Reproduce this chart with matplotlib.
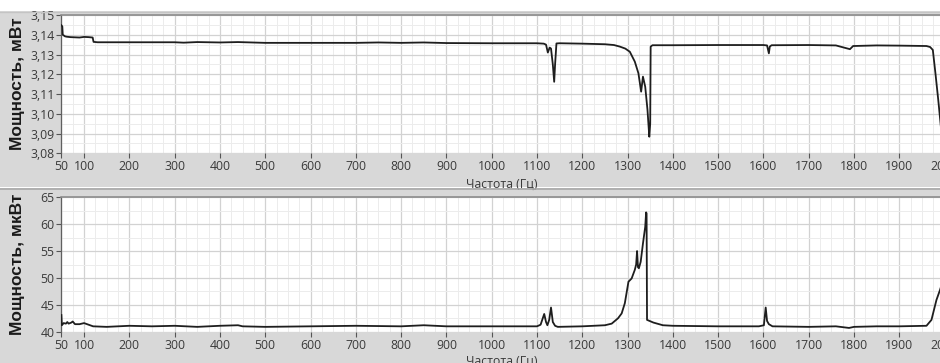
import matplotlib
matplotlib.use("Agg")
import matplotlib.pyplot as plt
from matplotlib.ticker import FixedLocator, MultipleLocator
from matplotlib.patches import Rectangle
from matplotlib.lines import Line2D

# ---------------- data ----------------
freq_top = [50, 52, 53, 58, 62, 70, 90, 100, 110, 119, 121, 130, 200, 300, 320, 350,
            400, 440, 500, 700, 750, 800, 850, 900, 1000, 1100, 1115, 1120, 1124,
            1128, 1131, 1135, 1138, 1140, 1143, 1150, 1200, 1250, 1270, 1283, 1295,
            1305, 1316, 1324, 1330, 1334, 1339, 1344, 1348, 1350, 1351, 1355, 1400,
            1500, 1600, 1608, 1612, 1614, 1618, 1700, 1760, 1791, 1798, 1850, 1900,
            1960, 1968, 1974, 1980, 1986, 1992, 2000]
power_top = [3.1448, 3.1442, 3.1400, 3.1392, 3.1390, 3.1388, 3.1386, 3.1389, 3.1388,
             3.1386, 3.1364, 3.1362, 3.1362, 3.1362, 3.1360, 3.1363, 3.1361, 3.1363,
             3.1359, 3.1359, 3.1361, 3.1359, 3.1361, 3.1358, 3.1357, 3.1357, 3.1355,
             3.1350, 3.1310, 3.1335, 3.1330, 3.1250, 3.1162, 3.1250, 3.1356, 3.1357,
             3.1355, 3.1352, 3.1348, 3.1340, 3.1330, 3.1314, 3.1264, 3.1205, 3.1112,
             3.1188, 3.1137, 3.1020, 3.0884, 3.0950, 3.1340, 3.1347, 3.1347, 3.1348,
             3.1348, 3.1346, 3.1306, 3.1340, 3.1347, 3.1348, 3.1346, 3.1327, 3.1343,
             3.1346, 3.1345, 3.1343, 3.1338, 3.1323, 3.1200, 3.1070, 3.0930, 3.0850]

freq_bot = [50, 51, 55, 60, 63, 66, 72, 75, 80, 90, 100, 110, 120, 150, 200, 250, 300,
            350, 400, 440, 450, 500, 600, 700, 800, 850, 900, 1000, 1100, 1108, 1116,
            1120, 1123, 1127, 1131, 1135, 1140, 1146, 1200, 1250, 1265, 1279, 1287,
            1294, 1302, 1309, 1316, 1319, 1321, 1323, 1325, 1329, 1334, 1339, 1341,
            1342, 1343, 1357, 1378, 1400, 1500, 1590, 1601, 1605, 1608, 1612, 1620,
            1700, 1760, 1789, 1800, 1850, 1900, 1960, 1971, 1982, 1990, 2000]
power_bot = [43.1, 41.2, 41.6, 41.5, 41.8, 41.5, 41.7, 41.9, 41.4, 41.4, 41.6, 41.3,
             41.0, 40.9, 41.1, 41.0, 41.1, 40.9, 41.1, 41.2, 41.0, 40.9, 41.0, 41.1,
             41.0, 41.2, 41.0, 41.0, 41.0, 41.3, 43.3, 41.8, 41.2, 42.2, 44.5, 41.8,
             41.1, 40.9, 41.0, 41.2, 41.5, 42.5, 43.4, 45.3, 49.3, 49.9, 51.5, 52.5,
             55.0, 52.0, 51.8, 53.0, 56.4, 59.5, 62.2, 62.0, 42.2, 41.7, 41.2, 41.1,
             41.0, 41.0, 41.2, 44.5, 42.0, 41.4, 41.0, 40.9, 41.0, 40.7, 40.9, 41.0,
             41.0, 41.1, 42.2, 45.9, 47.8, 50.5]

xticks = [50, 100, 200, 300, 400, 500, 600, 700, 800, 900, 1000, 1100, 1200, 1300,
          1400, 1500, 1600, 1700, 1800, 1900, 2000]
yticks_top = [3.08, 3.09, 3.10, 3.11, 3.12, 3.13, 3.14, 3.15]
ylabels_top = ["3,08", "3,09", "3,10", "3,11", "3,12", "3,13", "3,14", "3,15"]
yticks_bot = [40, 45, 50, 55, 60, 65]
ylabels_bot = ["40", "45", "50", "55", "60", "65"]

xlabel = "Частота (Гц)"
ylabel_top = "Мощность, мВт"
ylabel_bot = "Мощность, мкВт"

# ---------------- figure ----------------
W, H = 940, 363
fig = plt.figure(figsize=(W / 100, H / 100), dpi=100)
fig.patch.set_facecolor("white")

PANEL = "#d8d8d8"
TXT = "#3a3a3a"
LINE = "#1e1e1e"

def fy(py):  # pixel-from-top -> figure fraction
    return 1 - py / H

# background panels
fig.add_artist(Rectangle((0, fy(187)), 1, fy(11) - fy(187), transform=fig.transFigure,
                         facecolor=PANEL, edgecolor="none", zorder=0))
fig.add_artist(Rectangle((0, 0), 1, fy(188), transform=fig.transFigure,
                         facecolor=PANEL, edgecolor="none", zorder=0))
fig.add_artist(Line2D([0, 1], [fy(189), fy(189)], transform=fig.transFigure,
                      color="#a9a9a9", lw=1.2, zorder=5))
fig.add_artist(Line2D([0, 1], [fy(11.5), fy(11.5)], transform=fig.transFigure,
                      color="#c4c4c4", lw=1.0, zorder=1))

x0, x1 = 61.4, 944.6
left = x0 / W
width = (x1 - x0) / W

def make_ax(ptop, pbot):
    ax = fig.add_axes([left, fy(pbot), width, (pbot - ptop) / H])
    ax.set_facecolor("white")
    ax.set_xlim(50, 2000)
    ax.xaxis.set_major_locator(FixedLocator(xticks))
    ax.set_xticklabels([str(t) for t in xticks])
    ax.xaxis.set_minor_locator(MultipleLocator(25))
    ax.grid(which="major", color="#d2d2d2", lw=0.9)
    ax.grid(which="minor", color="#ececec", lw=0.7)
    ax.set_axisbelow(True)
    ax.tick_params(which="major", direction="out", length=3.5, width=0.8,
                   color="#555555", labelcolor=TXT, labelsize=8.8, pad=1.5)
    ax.tick_params(which="minor", length=0)
    for s in ["bottom", "right"]:
        ax.spines[s].set_visible(False)
    ax.spines["left"].set_color("#606060")
    ax.spines["left"].set_linewidth(0.9)
    ax.spines["top"].set_color("#8c8c8c")
    ax.spines["top"].set_linewidth(1.2)
    for lab in ax.get_xticklabels() + ax.get_yticklabels():
        lab.set_family(["Open Sans", "DejaVu Sans"])
    return ax

# top
ax1 = make_ax(15, 153.3)
ax1.set_ylim(3.08, 3.15)
ax1.yaxis.set_major_locator(FixedLocator(yticks_top))
ax1.set_yticklabels(ylabels_top, family=["Open Sans", "DejaVu Sans"])
ax1.yaxis.set_minor_locator(MultipleLocator(0.005))
ax1.plot(freq_top, power_top, color=LINE, lw=1.3, zorder=3)
ax1.set_ylabel(ylabel_top, fontsize=12.5, fontweight="bold", color="#1a1a1a",
               family=["Liberation Sans", "DejaVu Sans"])
ax1.yaxis.set_label_coords(-0.041, 0.5)
fig.text((x0 + 440) / W, fy(184), xlabel, ha="center", va="center", fontsize=8.8,
         color=TXT, family=["Open Sans", "DejaVu Sans"], zorder=4)

# bottom
ax2 = make_ax(197.3, 331.7)
ax2.set_ylim(40, 65)
ax2.yaxis.set_major_locator(FixedLocator(yticks_bot))
ax2.set_yticklabels(ylabels_bot, family=["Open Sans", "DejaVu Sans"])
ax2.yaxis.set_minor_locator(MultipleLocator(2.5))
ax2.plot(freq_bot, power_bot, color=LINE, lw=1.3, zorder=3)
ax2.set_ylabel(ylabel_bot, fontsize=12.5, fontweight="bold", color="#1a1a1a",
               family=["Liberation Sans", "DejaVu Sans"])
ax2.yaxis.set_label_coords(-0.041, 0.5)
fig.text((x0 + 440) / W, fy(361), xlabel, ha="center", va="center", fontsize=8.8,
         color=TXT, family=["Open Sans", "DejaVu Sans"], zorder=4)

fig.savefig("out.png", dpi=100, facecolor=fig.get_facecolor())
